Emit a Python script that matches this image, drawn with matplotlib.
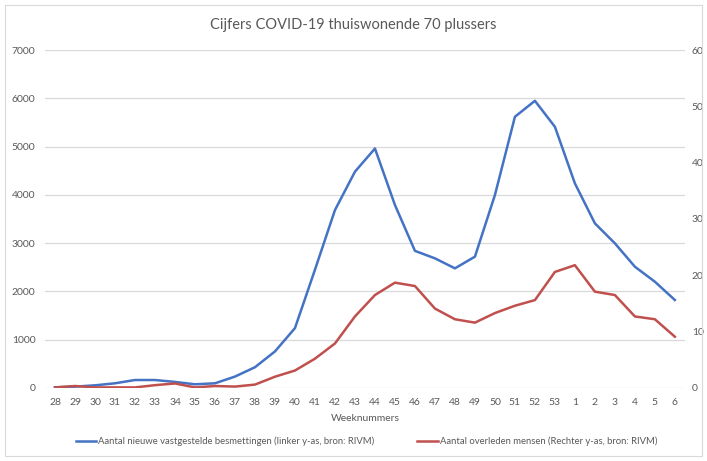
import matplotlib
matplotlib.use("Agg")
import matplotlib.pyplot as plt
from matplotlib.patches import Rectangle

plt.rcParams['font.family'] = ['Lato', 'DejaVu Sans']

# weeknummers (2020 wk 28 t/m 2021 wk 6)
weeks = [str(w) for w in range(28, 54)] + [str(w) for w in range(1, 7)]

# nieuwe vastgestelde besmettingen (linker y-as)
besmettingen = [14, 28, 55, 97, 165, 165, 125, 76, 97, 236, 430, 757,
                1240, 2450, 3685, 4480, 4960, 3790, 2840, 2685, 2478, 2720,
                3996, 5617, 5948, 5410, 4238, 3410, 2996, 2512, 2201, 1822]

# overleden mensen (rechter y-as)
overleden = [0.1, 0.35, 0.1, 0.1, 0.1, 0.5, 0.8, 0.1, 0.35, 0.25, 0.6, 2.0,
             3.1, 5.2, 7.9, 12.7, 16.5, 18.7, 18.1, 14.1, 12.2, 11.6,
             13.3, 14.6, 15.6, 20.6, 21.8, 17.1, 16.5, 12.7, 12.2, 9.1]

grey = '#595959'
blue = '#4472C4'
red = '#C0504D'

fig = plt.figure(figsize=(7.07, 4.61), dpi=100)
ax = fig.add_axes([0.0637, 0.1584, 0.905, 0.7331])
ax2 = ax.twinx()

x = list(range(len(weeks)))
l1, = ax.plot(x, besmettingen, color=blue, lw=1.8, solid_joinstyle='round')
l2, = ax2.plot(x, overleden, color=red, lw=1.8, solid_joinstyle='round')

ax.set_xlim(-0.5, len(weeks) - 0.5)
ax.set_ylim(0, 7000)
ax.set_yticks(range(0, 7001, 1000))
ax2.set_ylim(0, 60)
ax2.set_yticks(range(0, 61, 10))
ax.set_xticks(x)
ax.set_xticklabels(weeks)

ax.grid(axis='y', color='#d9d9d9', lw=0.9)
ax.set_axisbelow(True)
for a in (ax, ax2):
    for s in a.spines.values():
        s.set_visible(False)
    a.tick_params(length=0, labelsize=7.5, colors=grey)
ax.tick_params(axis='y', pad=7)
ax.tick_params(axis='x', pad=7)
ax2.tick_params(axis='y', pad=5)

ax.set_xlabel('Weeknummers', fontsize=7.5, color=grey, labelpad=5)
fig.text(0.5, 0.945, 'Cijfers COVID-19 thuiswonende 70 plussers',
         ha='center', va='center', fontsize=10.5, color=grey)

fig.legend([l1, l2],
           ['Aantal nieuwe vastgestelde besmettingen (linker y-as, bron: RIVM)',
            'Aantal overleden mensen (Rechter y-as, bron: RIVM)'],
           loc='center', bbox_to_anchor=(0.518, 0.043), ncol=2, frameon=False,
           fontsize=6.8, labelcolor=grey, handlelength=2.2, handletextpad=0.2,
           columnspacing=4.5)

fig.patches.append(Rectangle((0.007, 0.01), 0.986, 0.98, transform=fig.transFigure,
                             fill=False, edgecolor='#d9d9d9', lw=0.8))

fig.savefig('out.png', dpi=100)
